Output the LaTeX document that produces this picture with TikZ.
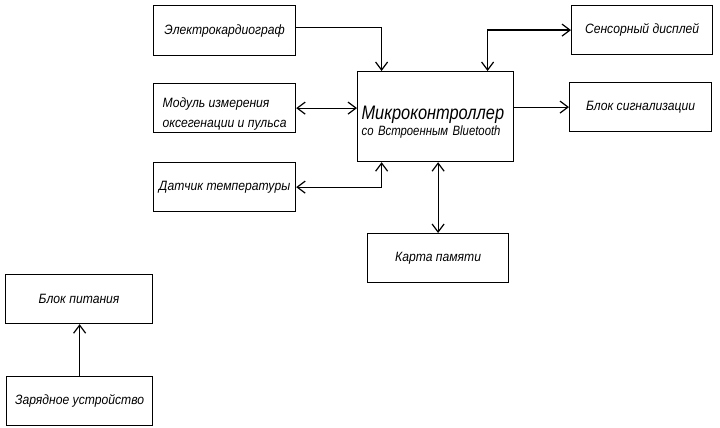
\documentclass[tikz,border=0pt]{standalone}
\usepackage{fontspec}
\setmainfont{Liberation Sans}[FakeStretch=0.9]
\newfontfamily\wideF{Liberation Sans}[FakeStretch=0.84]
\usetikzlibrary{arrows.meta}
\tikzset{
  blk/.style={draw, line width=1.2pt, anchor=north west, inner sep=0pt, align=center, font=\fontsize{13.5}{16}\selectfont\itshape},
  conn/.style={line width=1.2pt, line join=miter},
  tip/.style={conn, -{Straight Barb[length=8pt,width=12pt,line width=1.2pt]}},
  tips/.style={conn, {Straight Barb[length=8pt,width=12pt,line width=1.2pt]}-{Straight Barb[length=8pt,width=12pt,line width=1.2pt]}}
}
\begin{document}
\begin{tikzpicture}[x=1pt,y=-1pt]
\useasboundingbox[fill=white] (0,0) rectangle (720,428);
\node[blk, minimum width=142pt, minimum height=50pt] (ecg) at (153,5) {Электрокардиограф};
\node[blk, minimum width=142pt, minimum height=49pt, align=left] (mod) at (153,83) {\rule{0pt}{22pt}Модуль измерения\\[4pt]оксегенации и пульса};
\node[blk, minimum width=142pt, minimum height=49pt] (tmp) at (153,162) {Датчик температуры};
\node[blk, minimum width=156pt, minimum height=90pt, text width=148pt, align=left] (mcu) at (357,71) {\wideF{\fontsize{19.5}{20}\selectfont\rule{0pt}{24pt}Микроконтроллер}\\[0pt]{\fontsize{13.5}{16}\selectfont со Встроенным Bluetooth}};
\node[blk, minimum width=141pt, minimum height=49pt] (dsp) at (571,5) {Сенсорный дисплей};
\node[blk, minimum width=142pt, minimum height=49pt] (sig) at (569,82) {Блок сигнализации};
\node[blk, minimum width=141pt, minimum height=49pt] (mem) at (367,233) {Карта памяти};
\node[blk, minimum width=147pt, minimum height=49pt] (pow) at (5,274) {Блок питания};
\node[blk, minimum width=146pt, minimum height=49pt] (chg) at (6,376) {Зарядное устройство};

\draw[tip] ([yshift=3pt]ecg.east) -| ([xshift=-54pt]mcu.north);
\draw[tips] (mod.east) -- (mod.east -| mcu.west);
\draw[tips] (tmp.east) -| ([xshift=-54pt]mcu.south);
\draw[tips] ([xshift=52pt]mcu.north) |- (dsp.west);
\draw[tip] (mcu.east |- sig.west) -- (sig.west);
\draw[tips] (mem.north |- mcu.south) -- (mem.north);
\draw[tip] (chg.north) -- (chg.north |- pow.south);
\end{tikzpicture}
\end{document}
